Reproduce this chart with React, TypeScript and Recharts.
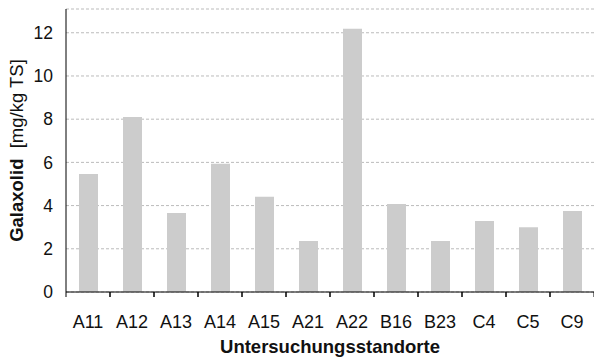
import { BarChart, Bar, XAxis, YAxis, CartesianGrid } from 'recharts'

const standorte = ['A11', 'A12', 'A13', 'A14', 'A15', 'A21', 'A22', 'B16', 'B23', 'C4', 'C5', 'C9']
const galaxolid = [5.46, 8.1, 3.66, 5.94, 4.41, 2.36, 12.18, 4.07, 2.36, 3.29, 3.0, 3.75]
const yTicks = [0, 2, 4, 6, 8, 10, 12]

const data = standorte.map((name, i) => ({ name, value: galaxolid[i] }))

const FONT = '"Liberation Sans", Arial, Helvetica, sans-serif'

// label centred in the band, tick mark on the band boundary
const BandTick = ({ x, y, payload }: any) => {
  const off = payload?.offset || 22
  return (
    <g>
      <line x1={x - off} y1={y} x2={x - off} y2={y + 5} stroke="#000" />
      <line x1={x + off} y1={y} x2={x + off} y2={y + 5} stroke="#000" />
      <text x={x} y={y + 36} textAnchor="middle" fontSize={18} fill="#111" fontFamily={FONT}>
        {payload.value}
      </text>
    </g>
  )
}

const XTitle = ({ viewBox }: any) => (
  <text
    x={viewBox.x + viewBox.width / 2}
    y={353}
    textAnchor="middle"
    fontSize={18.5}
    fontWeight="bold"
    fill="#111"
    fontFamily={FONT}
  >
    Untersuchungsstandorte
  </text>
)

const YTitle = ({ viewBox }: any) => {
  const cy = viewBox.y + viewBox.height / 2
  return (
    <text
      x={16}
      y={cy}
      transform={`rotate(-90, 16, ${cy})`}
      textAnchor="middle"
      dominantBaseline="central"
      fontSize={18.5}
      fill="#111"
      fontFamily={FONT}
    >
      <tspan fontWeight="bold">Galaxolid</tspan>
      <tspan xmlSpace="preserve">{'  [mg/kg TS]'}</tspan>
    </text>
  )
}

export default function App() {
  return (
    <div style={{ position: 'absolute', left: 0, top: 0, background: '#fff' }}>
      <BarChart width={594} height={358} data={data} margin={{ top: 9, right: 0, left: 0, bottom: 0 }}>
        <CartesianGrid vertical={false} stroke="#bbb" strokeDasharray="3 2" />
        <XAxis
          dataKey="name"
          height={66}
          tickLine={false}
          tickSize={0}
          tickMargin={0}
          axisLine={{ stroke: '#000' }}
          tick={<BandTick />}
          interval={0}
          label={<XTitle />}
        />
        <YAxis
          width={66}
          domain={[0, 13.1]}
          ticks={yTicks}
          tickLine={false}
          tickMargin={7}
          axisLine={{ stroke: '#000' }}
          tick={{ fontSize: 17.5, fill: '#111', fontFamily: FONT }}
          label={<YTitle />}
        />
        <Bar dataKey="value" fill="#cccccc" barSize={19} isAnimationActive={false} />
      </BarChart>
    </div>
  )
}
